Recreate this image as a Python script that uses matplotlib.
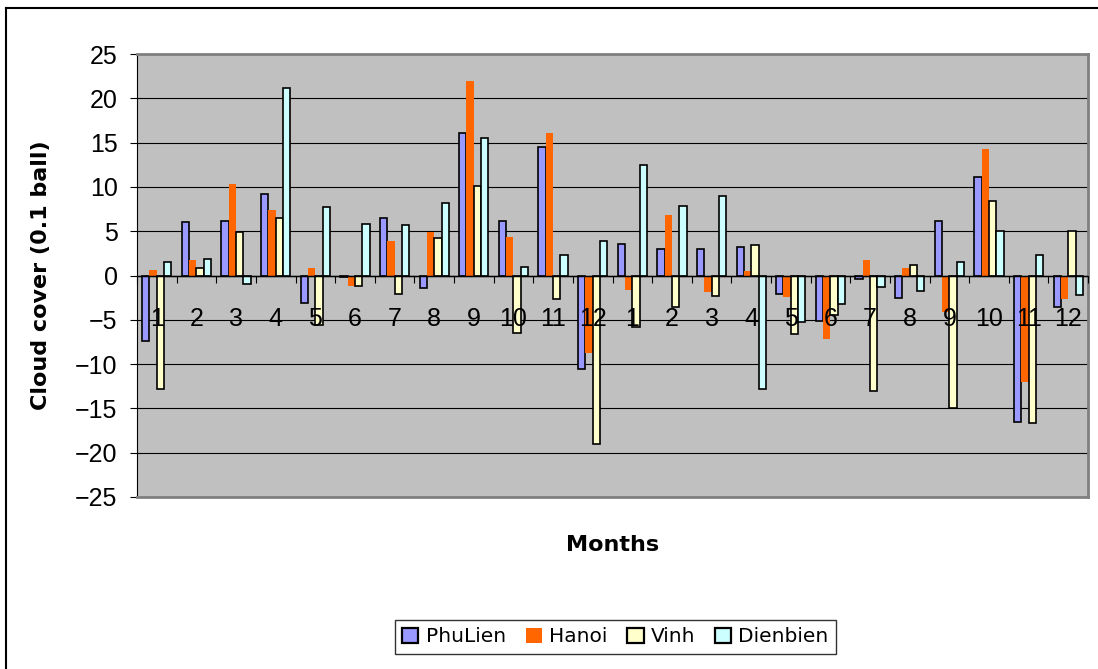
import matplotlib
matplotlib.use("Agg")
import matplotlib.pyplot as plt
from matplotlib.lines import Line2D
import numpy as np

# month labels for two years
months = [str(m) for m in range(1, 13)] * 2

phulien = [-7.4, 6.0, 6.1, 9.2, -3.1, -0.2, 6.5, -1.4, 16.1, 6.1, 14.5, -10.6,
           3.6, 3.0, 3.0, 3.2, -2.1, -5.1, -0.45, -2.5, 6.1, 11.1, -16.5, -3.5]
hanoi = [0.6, 1.8, 10.3, 7.4, 0.8, -1.2, 3.9, 4.9, 21.9, 4.3, 16.1, -8.8,
         -1.6, 6.8, -1.9, 0.5, -2.4, -7.2, 1.8, 0.9, -4.1, 14.3, -12.0, -2.7]
vinh = [-12.8, 0.9, 4.9, 6.5, -5.6, -1.2, -2.1, 4.2, 10.1, -6.5, -2.7, -19.0,
        -5.8, -3.6, -2.3, 3.4, -6.6, -4.5, -13.0, 1.2, -15.0, 8.4, -16.7, 5.0]
dienbien = [1.5, 1.9, -1.0, 21.2, 7.7, 5.8, 5.7, 8.2, 15.5, 1.0, 2.3, 3.9,
            12.5, 7.9, 9.0, -12.8, -5.3, -3.2, -1.3, -1.8, 1.5, 5.0, 2.3, -2.2]

series = [("PhuLien", phulien, "#9999FF", True),
          ("Hanoi", hanoi, "#FF6600", False),
          ("Vinh", vinh, "#FFFFCC", True),
          ("Dienbien", dienbien, "#CCFFFF", True)]

fig = plt.figure(figsize=(10.98, 6.69), dpi=100)
ax = fig.add_axes([137 / 1098, 1 - 497 / 669, 951 / 1098, 443 / 669])
ax.set_facecolor("#C0C0C0")

x = np.arange(len(months))
w = 0.185
for i, (name, vals, col, edged) in enumerate(series):
    ax.bar(x + (i - 1.5) * w, vals, w, color=col, label=name,
           edgecolor="black" if edged else col,
           linewidth=1.2 if edged else 0, zorder=3)

ax.set_xlim(-0.5, len(months) - 0.5)
ax.set_ylim(-25, 25)
ax.set_yticks(range(-25, 26, 5))
ax.yaxis.grid(True, color="black", linewidth=0.8)
ax.yaxis.set_zorder(1)
ax.axhline(0, color="black", linewidth=1.0, zorder=4)

# category axis sits on zero line, labels drawn over the bars
ax.spines["bottom"].set_position(("data", 0))
ax.spines["bottom"].set_color("black")
ax.spines["bottom"].set_zorder(4)
ax.xaxis.set_zorder(6)
ax.set_xticks(np.arange(-0.5, len(months), 1.0))
ax.set_xticklabels([])
ax.set_xticks(x, minor=True)
ax.set_xticklabels(months, minor=True, fontsize=18, family="Liberation Sans")
ax.tick_params(axis="x", which="major", direction="out", length=5, color="black")
ax.tick_params(axis="x", which="minor", length=0, pad=23)

ax.tick_params(axis="y", direction="out", length=5, pad=9, labelsize=18)
for t in ax.get_yticklabels():
    t.set_family("Liberation Sans")

for s in ["top", "right"]:
    ax.spines[s].set_color("#808080")
    ax.spines[s].set_linewidth(2)
ax.spines["left"].set_color("black")

# grey bottom border of the plot area
ax.plot([0, 1], [0, 0], transform=ax.transAxes, color="#808080",
        linewidth=2, clip_on=False, zorder=5)

ax.set_ylabel("Cloud cover (0.1 ball)", fontsize=16, fontweight="bold",
              family="DejaVu Sans")
ax.yaxis.set_label_coords(-0.09, 0.5)
fig.text(613 / 1098, 1 - 545 / 669, "Months", fontsize=16, fontweight="bold",
         family="DejaVu Sans", ha="center", va="center")

leg = fig.legend(loc="center", bbox_to_anchor=(615.5 / 1098, 1 - 637 / 669),
                 ncol=4, frameon=True, fancybox=False, edgecolor="black",
                 fontsize=14.5, handlelength=0.8, handleheight=0.8,
                 handletextpad=0.35, columnspacing=1.0, borderpad=0.35)
leg.get_frame().set_linewidth(1.0)
for h in leg.legend_handles:
    if h.get_linewidth() > 0:
        h.set_linewidth(1.6)

# outer chart frame (top and left edges)
fig.add_artist(Line2D([6 / 1098, 1], [1 - 8 / 669, 1 - 8 / 669],
                      transform=fig.transFigure, color="black", linewidth=1.5))
fig.add_artist(Line2D([6 / 1098, 6 / 1098], [0, 1 - 8 / 669],
                      transform=fig.transFigure, color="black", linewidth=1.5))

fig.savefig("out.png", dpi=100, facecolor="white")
